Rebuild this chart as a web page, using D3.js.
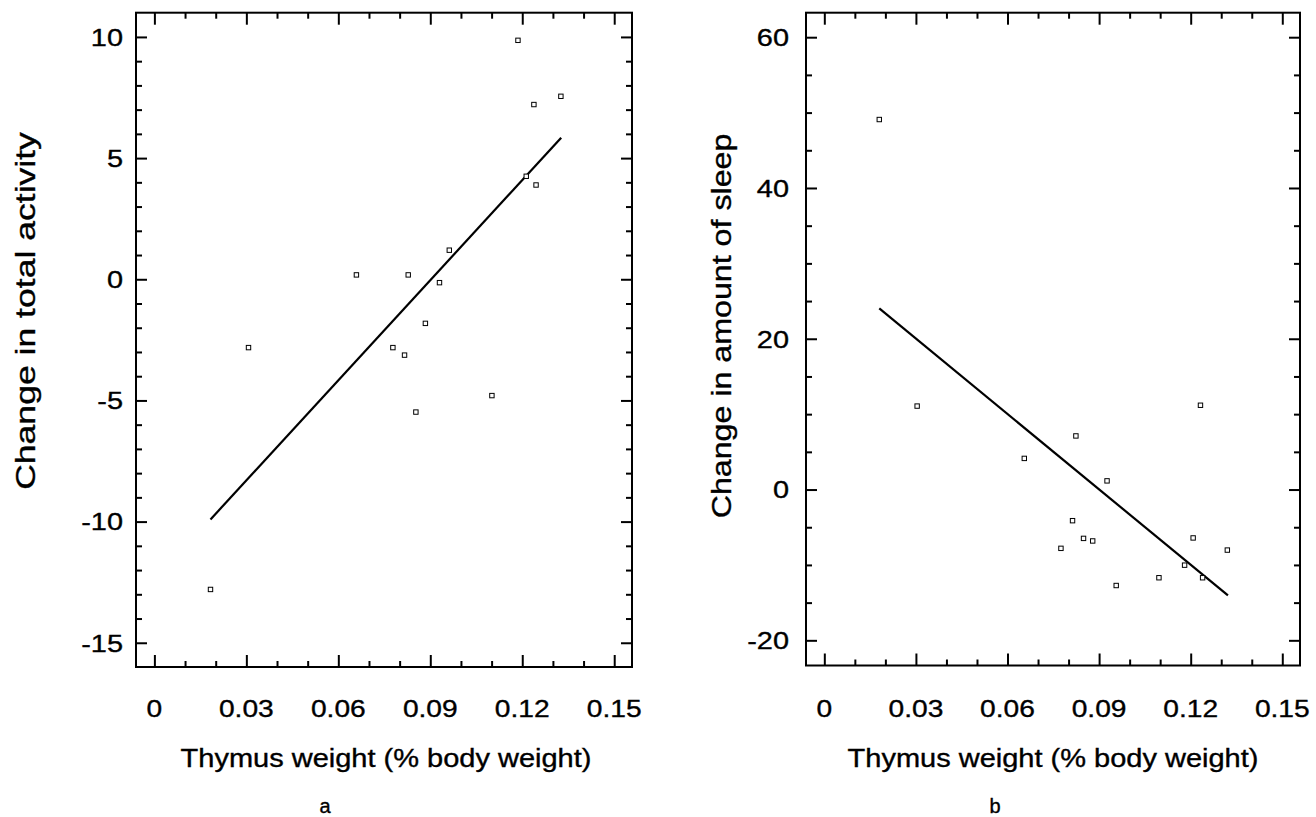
<!DOCTYPE html>
<html><head><meta charset="utf-8">
<script src="https://cdn.jsdelivr.net/npm/d3@7"></script>
<style>
body{margin:0;background:#fff}
svg{display:block}
text{font-family:"Liberation Sans",Arial,Helvetica,sans-serif;fill:#000;stroke:#000;stroke-width:0.35px}
</style>
</head><body>
<svg id="c" width="1316" height="817"></svg>
<script>
// ---- data ----
const thymusA  = [0.0183,0.0307,0.0659,0.0828,0.0778,0.0816,0.0884,0.0853,0.0930,0.0962,0.1101,0.1186,0.1238,0.1326,0.1213,0.1245];
const activity = [-12.80,-2.82,0.18,0.18,-2.82,-3.13,-1.82,-5.48,-0.14,1.20,-4.80,9.86,7.21,7.55,4.25,3.89];
const thymusB  = [0.0180,0.0304,0.0655,0.0824,0.0775,0.0813,0.0849,0.0879,0.0926,0.0956,0.1096,0.1180,0.1208,0.1239,0.1232,0.1320];
const sleep    = [49.08,11.07,4.13,7.11,-7.80,-4.13,-6.48,-6.82,1.15,-12.73,-11.70,-10.03,-6.42,-11.70,11.18,-8.03];
const fitAx = [0.0183,0.1327], fitAy = [-9.91,5.84];
const fitBx = [0.0180,0.1322], fitBy = [24.03,-14.05];
const xTicks = [0,0.03,0.06,0.09,0.12,0.15];
const xTickLabels = ["0","0.03","0.06","0.09","0.12","0.15"];
const yTicksA = [-15,-10,-5,0,5,10];
const yTicksB = [-20,0,20,40,60];
const xTitle = "Thymus weight (% body weight)";

const svg = d3.select("#c");

function stext(g, x, y, str, opt) {
  const t = g.append("text")
    .attr("transform", `translate(${x},${y})` + (opt.rot ? ` rotate(${opt.rot})` : "") + ` scale(${opt.sx||1},1)`)
    .attr("text-anchor", opt.anchor || "middle")
    .attr("font-size", opt.size)
    .text(str);
  if (opt.dy) t.attr("dy", opt.dy);
  return t;
}

function panel(cfg) {
  const g = svg.append("g");
  const x = d3.scaleLinear().domain([-0.006,0.1558]).range(cfg.xr);
  const y = d3.scaleLinear().domain(cfg.yd).range(cfg.yr);
  const [L,R] = cfg.xr, [B,T] = cfg.yr;
  const minorX = d3.range(0,16).map(i=>i/100).filter(v=>!xTicks.some(t=>Math.abs(t-v)<1e-9));
  const minorY = d3.range(cfg.minorStart, cfg.minorEnd+0.001, cfg.minorStep).filter(v=>!cfg.yTicks.includes(v));
  const style = s => s.call(a=>a.select(".domain").remove())
                      .call(a=>a.selectAll("line").attr("stroke","#000").attr("stroke-width",2))
                      .call(a=>a.selectAll("text").remove());
  g.append("g").attr("transform",`translate(0,${B})`).call(d3.axisBottom(x).tickValues(xTicks).tickSize(-12)).call(style);
  g.append("g").attr("transform",`translate(0,${B})`).call(d3.axisBottom(x).tickValues(minorX).tickSize(-6)).call(style);
  g.append("g").attr("transform",`translate(0,${T})`).call(d3.axisTop(x).tickValues(xTicks).tickSize(-12)).call(style);
  g.append("g").attr("transform",`translate(0,${T})`).call(d3.axisTop(x).tickValues(minorX).tickSize(-6)).call(style);
  g.append("g").attr("transform",`translate(${L},0)`).call(d3.axisLeft(y).tickValues(cfg.yTicks).tickSize(-11)).call(style);
  g.append("g").attr("transform",`translate(${L},0)`).call(d3.axisLeft(y).tickValues(minorY).tickSize(-6)).call(style);
  g.append("g").attr("transform",`translate(${R},0)`).call(d3.axisRight(y).tickValues(cfg.yTicks).tickSize(-11)).call(style);
  g.append("g").attr("transform",`translate(${R},0)`).call(d3.axisRight(y).tickValues(minorY).tickSize(-6)).call(style);
  g.append("rect").attr("x",L).attr("y",T).attr("width",R-L).attr("height",B-T)
    .attr("fill","none").attr("stroke","#000").attr("stroke-width",2);
  g.append("line").attr("x1",x(cfg.fx[0])).attr("y1",y(cfg.fy[0])).attr("x2",x(cfg.fx[1])).attr("y2",y(cfg.fy[1]))
    .attr("stroke","#000").attr("stroke-width",2.2);
  g.selectAll("rect.pt").data(cfg.xs.map((v,i)=>[v,cfg.ys[i]])).join("rect").attr("class","pt")
    .attr("x",d=>x(d[0])-2.2).attr("y",d=>y(d[1])-2.2).attr("width",4.4).attr("height",4.4)
    .attr("fill","#fff").attr("stroke","#000").attr("stroke-width",1);
  xTicks.forEach((t,i)=>stext(g, x(t), 717, xTickLabels[i], {size:24.5, sx:1.15}));
  cfg.yTicks.forEach(t=>stext(g, cfg.ylabX, y(t), String(t), {size:24.5, sx:1.18, anchor:"end", dy:"0.36em"}));
  stext(g, cfg.xtitleX, 767, xTitle, {size:25, sx:1.16});
  stext(g, cfg.ytitleX, cfg.ytitleY, cfg.ytitle, {size:28, sx:cfg.ytsx, rot:-90});
  stext(g, cfg.letterX, 813, cfg.letter, {size:20});
}

panel({xr:[136,632], yr:[667,12.7], yd:[-16,11], yTicks:yTicksA, minorStart:-15, minorEnd:10, minorStep:1,
  xs:thymusA, ys:activity, fx:fitAx, fy:fitAy, ylabX:123, xtitleX:386, ytitleX:35, ytitleY:311, ytsx:1.27,
  ytitle:"Change in total activity", letterX:325, letter:"a"});
panel({xr:[806,1300], yr:[665.5,12.7], yd:[-23.34,63.25], yTicks:yTicksB, minorStart:-20, minorEnd:60, minorStep:5,
  xs:thymusB, ys:sleep, fx:fitBx, fy:fitBy, ylabX:789, xtitleX:1053, ytitleX:731, ytitleY:326, ytsx:1.15,
  ytitle:"Change in amount of sleep", letterX:995, letter:"b"});
</script>
</body></html>
